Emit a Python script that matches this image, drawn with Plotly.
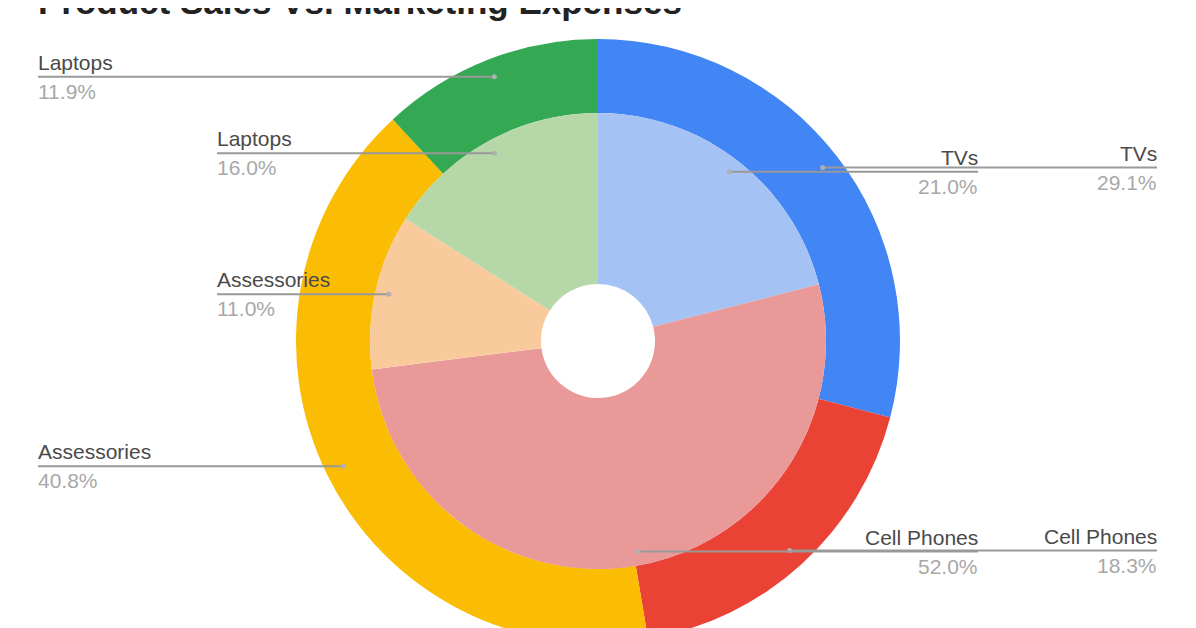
import math
import plotly.graph_objects as go

# ---------------------------- data
categories = ["TVs", "Cell Phones", "Assessories", "Laptops"]
sales_pct = [29.1, 18.3, 40.8, 11.9]        # 바깥 링
marketing_pct = [21.0, 52.0, 11.0, 16.0]    # 안쪽 링

outer_colors = ["#4285F4", "#EA4335", "#FBBC04", "#34A853"]
inner_colors = ["#A4C2F4", "#EA9999", "#F9CB9C", "#B6D7A8"]

title_text = "Product Sales Vs. Marketing Expenses"

# ---------------------------- layout in pixels
W, H = 1196, 660
OFF = 8   # 페이지 body 여백 보정
cx, cy = 598, 341
r_out, r_in, r_hole = 302, 228, 57
FONT = "Liberation Sans, Arial, sans-serif"


def fx(px):
    return (px - OFF) / W


def fy(py):
    return 1 - (py - OFF) / H


def square_domain(r):
    return dict(x=[fx(cx - r), fx(cx + r)], y=[fy(cy + r), fy(cy - r)])


fig = go.Figure()

fig.add_trace(go.Pie(
    labels=categories, values=sales_pct, name="Sales",
    domain=square_domain(r_out), hole=r_in / r_out,
    sort=False, direction="clockwise", rotation=0,
    marker=dict(colors=outer_colors, line=dict(width=0)),
    textinfo="none", showlegend=False,
))
fig.add_trace(go.Pie(
    labels=categories, values=marketing_pct, name="Marketing",
    domain=square_domain(r_in), hole=r_hole / r_in,
    sort=False, direction="clockwise", rotation=0,
    marker=dict(colors=inner_colors, line=dict(width=0)),
    textinfo="none", showlegend=False,
))

# ---------------------------- leader lines + labels
shapes = []
annotations = []


def add_labels(values, radius, left_x, right_x):
    total = sum(values)
    cum = 0
    for name, v in zip(categories, values):
        ang = 2 * math.pi * (cum + v / 2) / total
        cum += v
        dx = cx + radius * 0.94 * math.sin(ang)
        dy = cy - radius * 0.94 * math.cos(ang)
        if math.sin(ang) >= 0:
            x0, x1, tx, anchor = dx, right_x, right_x + 2, "right"
        else:
            x0, x1, tx, anchor = left_x, dx, left_x - 2, "left"
        shapes.append(dict(type="line", xref="paper", yref="paper",
                           x0=fx(x0), x1=fx(x1), y0=fy(dy), y1=fy(dy),
                           line=dict(color="#999999", width=2)))
        shapes.append(dict(type="circle", xref="paper", yref="paper",
                           x0=fx(dx - 2.5), x1=fx(dx + 2.5), y0=fy(dy + 2.5), y1=fy(dy - 2.5),
                           fillcolor="#b0b0b0", line=dict(width=0)))
        annotations.append(dict(xref="paper", yref="paper", x=fx(tx), y=fy(dy - 1),
                                xanchor=anchor, yanchor="bottom", showarrow=False,
                                text=name, font=dict(family=FONT, size=21, color="#4a4a4a")))
        annotations.append(dict(xref="paper", yref="paper", x=fx(tx), y=fy(dy + 1),
                                xanchor=anchor, yanchor="top", showarrow=False,
                                text=f"{v:.1f}%", font=dict(family=FONT, size=21, color="#a8a8a8")))


add_labels(sales_pct, r_out, 38, 1157)
add_labels(marketing_pct, r_in, 217, 978)

# 제목 (위쪽이 잘려 있음)
annotations.append(dict(xref="paper", yref="paper", x=fx(36), y=fy(1),
                        xanchor="left", yanchor="middle", showarrow=False,
                        text=f"<b>{title_text}</b>",
                        font=dict(family=FONT, size=35, color="#222222")))

fig.update_layout(
    width=W, height=H,
    margin=dict(l=0, r=0, t=0, b=0),
    paper_bgcolor="white", plot_bgcolor="white",
    shapes=shapes, annotations=annotations,
)

fig.write_html("out.html")
